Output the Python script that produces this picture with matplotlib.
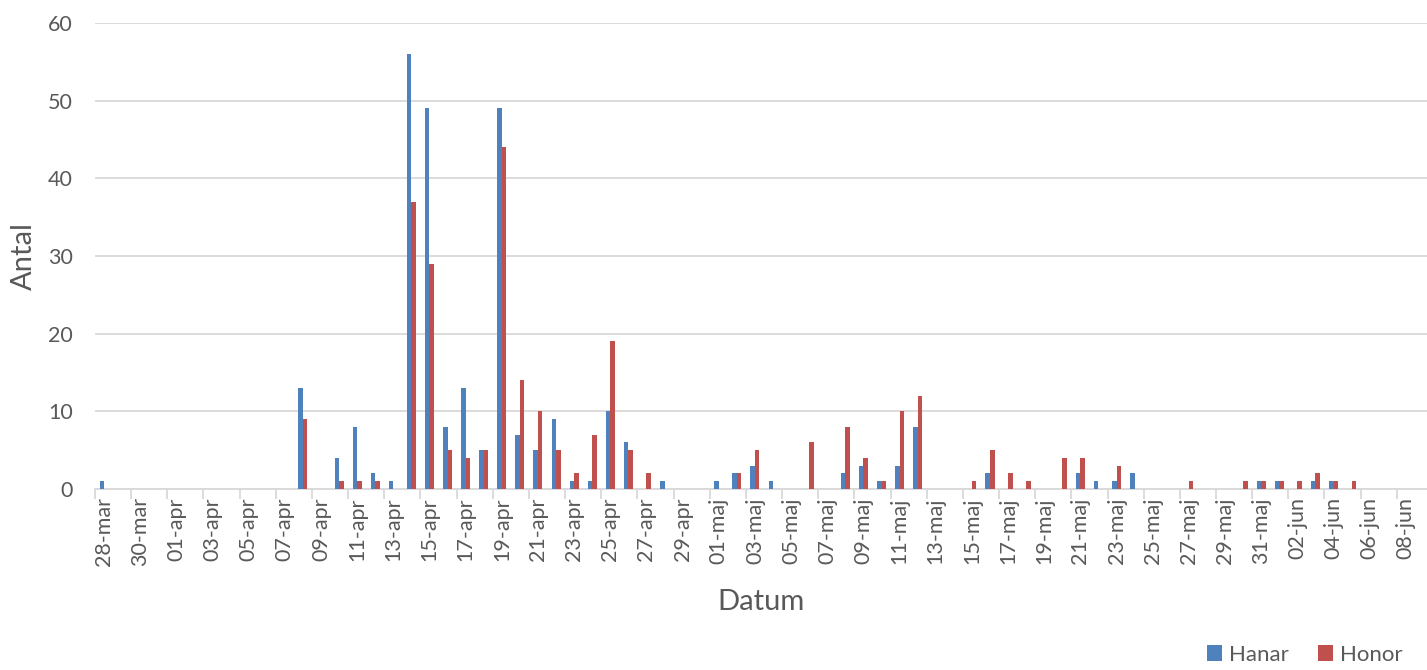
import matplotlib
matplotlib.use("Agg")
from matplotlib import pyplot as plt
import numpy as np
import pandas as pd

plt.rcParams['font.family'] = ['Lato', 'DejaVu Sans']

# one category per day, 28-mar .. 08-jun
month_names = {3: 'mar', 4: 'apr', 5: 'maj', 6: 'jun'}
dates = pd.date_range('2020-03-28', '2020-06-08', freq='D')
day_labels = ['%02d-%s' % (d.day, month_names[d.month]) for d in dates]

hanar = [1, 0, 0, 0, 0, 0, 0, 0, 0, 0, 0, 13, 0, 4, 8, 2, 1, 56, 49, 8,
         13, 5, 49, 7, 5, 9, 1, 1, 10, 6, 0, 1, 0, 0, 1, 2, 3, 1, 0, 0,
         0, 2, 3, 1, 3, 8, 0, 0, 0, 2, 0, 0, 0, 0, 2, 1, 1, 2, 0, 0,
         0, 0, 0, 0, 1, 1, 0, 1, 1, 0, 0, 0, 0]
honor = [0, 0, 0, 0, 0, 0, 0, 0, 0, 0, 0, 9, 0, 1, 1, 1, 0, 37, 29, 5,
         4, 5, 44, 14, 10, 5, 2, 7, 19, 5, 2, 0, 0, 0, 0, 2, 5, 0, 0, 6,
         0, 8, 4, 1, 10, 12, 0, 0, 1, 5, 2, 1, 0, 4, 4, 0, 3, 0, 0, 0,
         1, 0, 0, 1, 1, 1, 1, 2, 1, 1, 0, 0, 0]

BLUE = '#4F81BD'
RED = '#C0504D'
GRID = '#D9D9D9'
TXT = '#595959'

fig = plt.figure(figsize=(14.27, 6.70), dpi=100)
ax = fig.add_axes([95 / 1427, 181 / 670, 1 - 95 / 1427, 466 / 670])

x = np.arange(len(day_labels))
w = 0.25
ax.bar(x - w / 2, hanar, width=w, color=BLUE, label='Hanar', zorder=3)
ax.bar(x + w / 2, honor, width=w, color=RED, label='Honor', zorder=3)

ax.set_ylim(0, 60)
ax.set_xlim(-0.5, 73.17)
ax.set_yticks(np.arange(0, 61, 10))
ax.yaxis.grid(True, color=GRID, linewidth=1.3, zorder=0)
ax.tick_params(axis='y', length=0, labelsize=15.5, labelcolor=TXT, pad=16)

# tick marks between categories, labels every second day
ax.set_xticks(np.arange(-0.5, len(day_labels), 2))
ax.set_xticklabels([])
ax.tick_params(axis='x', which='major', length=7, width=1.3, color=GRID)
ax.set_xticks(x[::2], minor=True)
ax.set_xticklabels(day_labels[::2], minor=True, rotation=90)
ax.tick_params(axis='x', which='minor', length=0, labelsize=15.5,
               labelcolor=TXT, pad=6)

for side in ['top', 'right', 'left']:
    ax.spines[side].set_visible(False)
ax.spines['bottom'].set_color(GRID)
ax.spines['bottom'].set_linewidth(1.3)

ax.set_ylabel('Antal', fontsize=21, color=TXT, labelpad=8)
ax.set_xlabel('Datum', fontsize=21, color=TXT, labelpad=16)

fig.legend(loc='lower right', bbox_to_anchor=(0.997, -0.022), ncol=2,
           frameon=False, fontsize=16, labelcolor=TXT, handlelength=0.7,
           handleheight=0.7, handletextpad=0.3, columnspacing=1.3)

fig.savefig('out.png', dpi=100)
